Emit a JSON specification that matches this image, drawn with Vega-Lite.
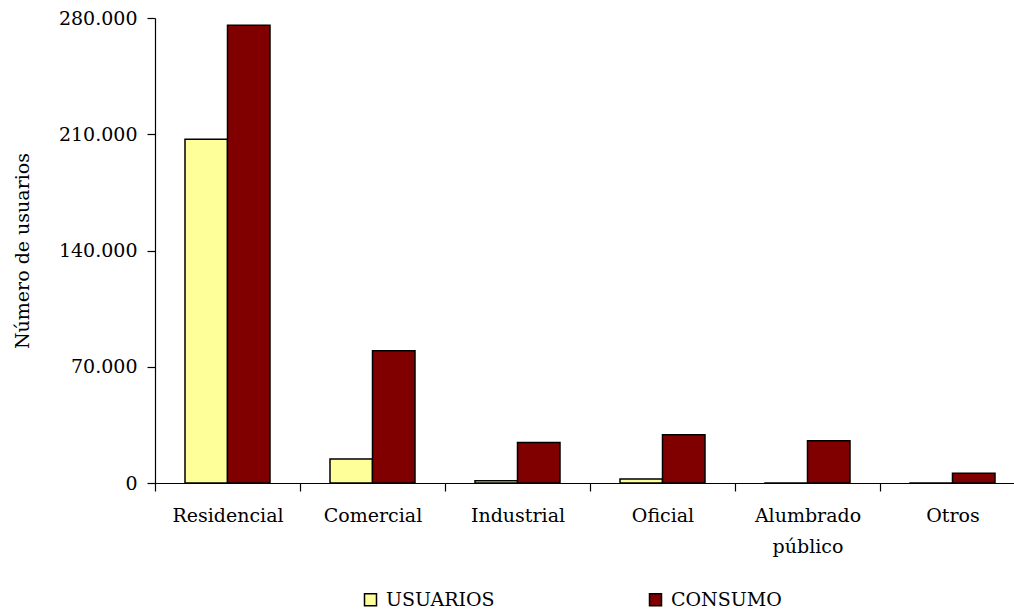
{
  "$schema": "https://vega.github.io/schema/vega-lite/v6.json",
  "autosize": "none",
  "width": 870,
  "height": 465,
  "padding": {"left": 155, "top": 18, "right": 0, "bottom": 127},
  "background": "white",
  "data": {
    "values": [
      {"categoria": "Residencial", "serie": "USUARIOS", "valor": 207000},
      {"categoria": "Residencial", "serie": "CONSUMO", "valor": 275600},
      {"categoria": "Comercial", "serie": "USUARIOS", "valor": 14400},
      {"categoria": "Comercial", "serie": "CONSUMO", "valor": 79600},
      {"categoria": "Industrial", "serie": "USUARIOS", "valor": 1300},
      {"categoria": "Industrial", "serie": "CONSUMO", "valor": 24400},
      {"categoria": "Oficial", "serie": "USUARIOS", "valor": 2400},
      {"categoria": "Oficial", "serie": "CONSUMO", "valor": 29000},
      {"categoria": "Alumbrado público", "serie": "USUARIOS", "valor": 60},
      {"categoria": "Alumbrado público", "serie": "CONSUMO", "valor": 25400},
      {"categoria": "Otros", "serie": "USUARIOS", "valor": 40},
      {"categoria": "Otros", "serie": "CONSUMO", "valor": 5800}
    ]
  },
  "mark": {"type": "bar", "stroke": "black", "strokeWidth": 1.5},
  "encoding": {
    "x": {
      "field": "categoria",
      "type": "nominal",
      "sort": null,
      "scale": {"paddingInner": 0, "paddingOuter": 0},
      "axis": {
        "title": null,
        "labelAngle": 0,
        "tickBand": "extent",
        "tickSize": 8,
        "tickColor": "black",
        "domainColor": "black",
        "labelPadding": 15,
        "labelFont": "DejaVu Serif",
        "labelFontSize": 19,
        "labelColor": "black",
        "labelLineHeight": 31,
        "labelExpr": "datum.label == 'Alumbrado público' ? ['Alumbrado', 'público'] : datum.label"
      }
    },
    "xOffset": {
      "field": "serie",
      "type": "nominal",
      "sort": ["USUARIOS", "CONSUMO"],
      "scale": {"paddingInner": 0, "paddingOuter": 0.706}
    },
    "y": {
      "field": "valor",
      "type": "quantitative",
      "scale": {"domain": [0, 280000], "nice": false},
      "axis": {
        "title": "Número de usuarios",
        "titleFont": "DejaVu Serif",
        "titleFontSize": 19,
        "titleFontWeight": "normal",
        "titleColor": "black",
        "titlePadding": 26,
        "values": [0, 70000, 140000, 210000, 280000],
        "grid": false,
        "tickSize": 8,
        "tickColor": "black",
        "domainColor": "black",
        "labelPadding": 10,
        "labelFont": "DejaVu Serif",
        "labelFontSize": 19,
        "labelColor": "black",
        "labelExpr": "replace(format(datum.value, ','), regexp(',', 'g'), '.')"
      }
    },
    "color": {
      "field": "serie",
      "type": "nominal",
      "scale": {"domain": ["USUARIOS", "CONSUMO"], "range": ["#FFFF99", "#800000"]},
      "legend": {
        "title": null,
        "orient": "none",
        "direction": "horizontal",
        "legendX": 206,
        "legendY": 572,
        "symbolType": "square",
        "symbolSize": 144,
        "symbolStrokeColor": "black",
        "symbolStrokeWidth": 1.5,
        "labelFont": "DejaVu Serif",
        "labelFontSize": 19,
        "labelColor": "black",
        "labelOffset": 6,
        "columnPadding": 151,
        "labelLimit": 300
      }
    }
  },
  "config": {
    "view": {"stroke": null},
    "axis": {"domainWidth": 1.2, "tickWidth": 1.2}
  }
}
